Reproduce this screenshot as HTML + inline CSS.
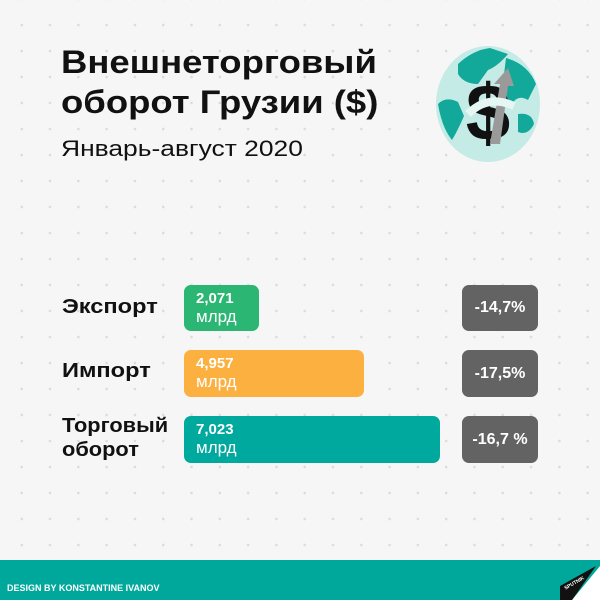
<!DOCTYPE html>
<html><head><meta charset="utf-8"><style>
body{margin:0;width:600px;height:600px;overflow:hidden;font-family:"Liberation Sans",sans-serif;}
.bg{position:absolute;left:0;top:0;width:600px;height:600px;background:#f6f6f6;
background-image:radial-gradient(circle,#dcdcdc 1.1px,transparent 1.6px);background-size:28.3px 26px;background-position:7.6px 12px;}
.t{position:absolute;color:#111;font-weight:bold;white-space:nowrap;transform-origin:0 0}
.bar{position:absolute;left:184px;border-radius:7px;color:#fff}
.bar b{position:absolute;left:12px;top:5px;font-size:15px}
.bar span{position:absolute;left:12px;top:22px;font-size:17px;color:#fff}
.g{position:absolute;left:462px;width:76px;background:#636363;border-radius:7px;color:#fff;font-weight:bold;font-size:16px;text-align:center}
</style></head><body>
<div class="bg"></div>
<div class="t" style="left:61px;top:44px;font-size:32px;transform:scaleX(1.14)">Внешнеторговый</div>
<div class="t" style="left:61px;top:84px;font-size:32px;transform:scaleX(1.14)">оборот Грузии ($)</div>
<div class="t" style="left:61px;top:136px;font-size:22px;font-weight:normal;transform:scaleX(1.2)">Январь-август 2020</div>
<svg style="position:absolute;left:428px;top:44px" width="120" height="122">
<ellipse cx="60" cy="60" rx="52" ry="58" fill="#c5ebe6"/>
<path d="M30 20 Q45 6 62 4 L80 10 Q70 22 60 26 L50 40 Q36 40 30 30Z" fill="#12a89a"/>
<path d="M78 14 Q100 20 108 40 L100 56 Q90 50 84 60 L74 50 Q76 30 78 14Z" fill="#12a89a"/>
<path d="M10 60 Q18 52 30 58 L36 72 Q30 86 24 96 Q14 84 10 60Z" fill="#12a89a"/>
<path d="M90 70 Q104 68 106 80 Q100 92 90 88Z" fill="#12a89a"/>
<text x="60" y="96" font-family="Liberation Sans" font-weight="bold" font-size="80" text-anchor="middle" fill="#111">$</text>
<path d="M62 100 L72 40 L66 40 L80 24 L86 42 L80 42 L72 100Z" fill="#9a9a9a"/>
<path d="M40 70 Q60 50 86 62" stroke="#e6f6f3" stroke-width="8" fill="none"/>
</svg>
<div class="t" style="left:62px;top:296px;font-size:20px;transform:scaleX(1.18)">Экспорт</div>
<div class="t" style="left:62px;top:360px;font-size:20px;transform:scaleX(1.18)">Импорт</div>
<div class="t" style="left:62px;top:414px;font-size:20px;line-height:24px;transform:scaleX(1.09)">Торговый<br>оборот</div>
<div class="bar" style="top:285px;width:75px;height:46px;background:#2bb673"><b>2,071</b><span>млрд</span></div>
<div class="bar" style="top:350px;width:180px;height:47px;background:#fbb03f"><b>4,957</b><span>млрд</span></div>
<div class="bar" style="top:416px;width:256px;height:47px;background:#00a99d"><b>7,023</b><span>млрд</span></div>
<div class="g" style="top:285px;height:46px;line-height:46px">-14,7%</div>
<div class="g" style="top:350px;height:47px;line-height:47px">-17,5%</div>
<div class="g" style="top:416px;height:47px;line-height:47px">-16,7 %</div>
<div style="position:absolute;left:0;top:560px;width:600px;height:40px;background:#00a89c"></div>
<div class="t" style="left:7px;top:583px;font-size:9px;color:#fff">DESIGN BY KONSTANTINE IVANOV</div>
<svg style="position:absolute;left:560px;top:566px" width="40" height="34">
<polygon points="40,0 40,34 12,34" fill="#fff"/>
<polygon points="0,20 36,0 12,34 0,34" fill="#111"/>
<text x="4" y="22" font-size="5" fill="#fff" font-weight="bold" transform="rotate(-30 8 20)">SPUTNIK</text></svg>
</body></html>
